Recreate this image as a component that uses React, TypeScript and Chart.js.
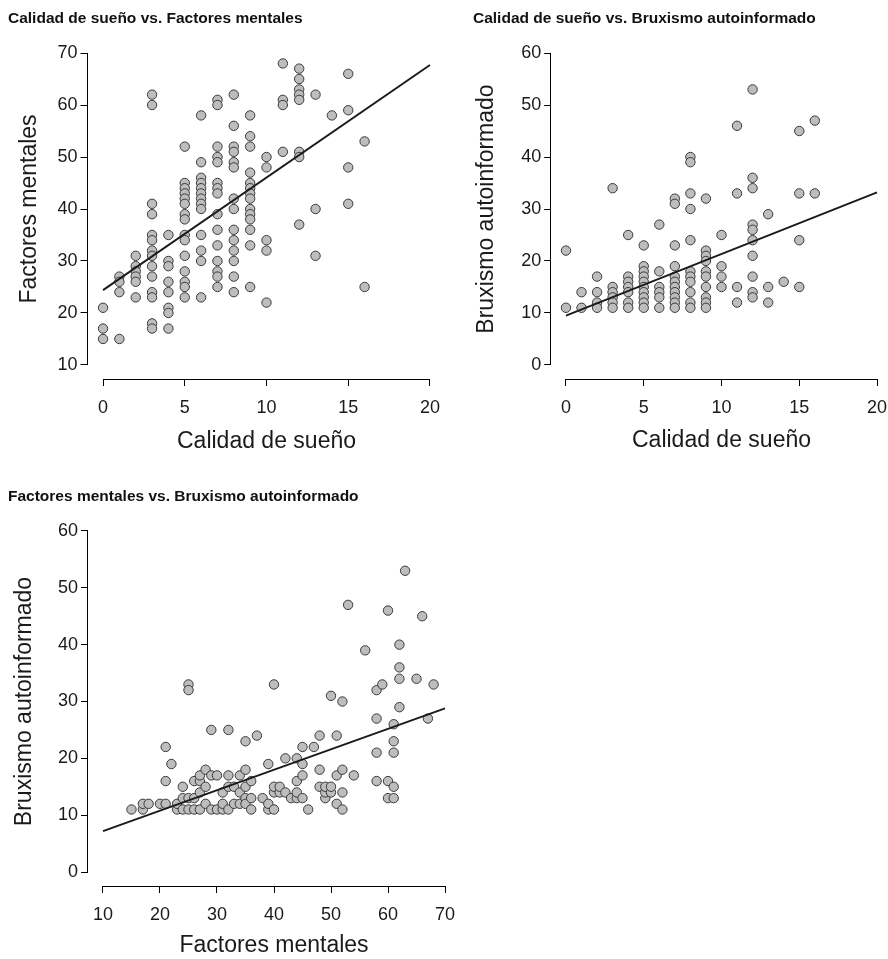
import React, { useEffect, useRef } from "react";
import { Chart, registerables } from "chart.js";

Chart.register(...registerables);

// ---------- DATA ----------
const sleepLevels = [0, 1, 2, 3, 4, 5, 6, 7, 8, 9, 10, 11, 12, 13, 14, 15, 16];

// Panel 1: mental factors grouped by sleep-quality score
const mentalBySleep: number[][] = [
  [21, 17, 15],
  [27, 26, 24, 15],
  [31, 29, 28, 27, 26, 23],
  [62, 60, 41, 39, 35, 34, 32, 31, 29, 27, 24, 23, 18, 17],
  [35, 30, 29, 26, 24, 21, 20, 17],
  [52, 45, 44, 43, 42, 41, 39, 38, 35, 34, 31, 28, 26, 25, 23],
  [58, 49, 46, 45, 44, 43, 42, 41, 40, 35, 32, 30, 23],
  [61, 60, 52, 50, 49, 45, 44, 43, 39, 36, 33, 30, 28, 27, 25],
  [62, 56, 52, 51, 49, 48, 42, 40, 36, 34, 32, 30, 27, 24],
  [58, 54, 52, 47, 45, 44, 43, 42, 40, 39, 38, 36, 33, 25],
  [50, 48, 34, 32, 22],
  [68, 61, 60, 51],
  [67, 65, 63, 62, 61, 51, 50, 37],
  [62, 40, 31],
  [58],
  [66, 59, 48, 41],
  [53, 25],
];

// Panel 2: bruxism grouped by sleep-quality score
const bruxBySleep: number[][] = [
  [22, 11],
  [14, 11],
  [17, 14, 12, 11],
  [34, 15, 14, 13, 12, 11],
  [25, 17, 16, 15, 14, 12, 11],
  [23, 19, 18, 17, 16, 15, 14, 13, 12, 11],
  [27, 18, 15, 14, 13, 11],
  [32, 31, 23, 19, 17, 16, 15, 14, 13, 12, 11],
  [40, 39, 33, 30, 24, 18, 17, 16, 14, 12, 11],
  [32, 22, 21, 20, 18, 17, 15, 13, 12, 11],
  [25, 19, 17, 15],
  [46, 33, 15, 12],
  [53, 36, 34, 27, 26, 24, 21, 17, 14, 13],
  [29, 15, 12],
  [16],
  [45, 33, 24, 15],
  [47, 33],
];

// Panel 3: mental factors (x) vs bruxism (y)
const mental3 = [
  15, 17, 17, 18, 20, 21, 21, 22, 21, 23,
  23, 24, 24, 24, 25, 25, 25, 25, 26, 26,
  26, 27, 27, 27, 27, 28, 28, 28, 29, 29,
  29, 30, 30, 31, 31, 31, 32, 32, 32, 32,
  33, 33, 34, 34, 34, 35, 35, 35, 35, 35,
  36, 36, 36, 37, 38, 39, 39, 39, 40, 40,
  40, 40, 41, 41, 42, 42, 43, 44, 44, 44,
  44, 45, 45, 45, 45, 46, 47, 48, 48, 48,
  49, 49, 49, 50, 50, 50, 51, 51, 51, 52,
  52, 52, 52, 53, 54, 56, 58, 58, 58, 58,
  59, 60, 60, 60, 61, 61, 61, 61, 61, 62,
  62, 62, 62, 63, 65, 66, 67, 68,
];
const brux3 = [
  11, 11, 12, 12, 12, 12, 16, 19, 22, 11,
  12, 11, 13, 15, 11, 13, 33, 32, 11, 16,
  13, 11, 14, 16, 17, 12, 15, 18, 11, 17,
  25, 11, 17, 11, 12, 14, 11, 15, 17, 25,
  12, 15, 12, 14, 17, 13, 15, 18, 23, 12,
  11, 13, 16, 24, 13, 11, 12, 19, 11, 14,
  15, 33, 14, 15, 14, 20, 13, 13, 14, 16,
  20, 13, 17, 19, 22, 11, 22, 15, 18, 24,
  13, 14, 15, 14, 15, 31, 12, 17, 24, 11,
  14, 18, 30, 47, 17, 39, 16, 21, 27, 32,
  33, 13, 16, 46, 13, 15, 21, 23, 26, 29,
  34, 36, 40, 53, 34, 45, 27, 33,
];

// Regression fits [intercept, slope]
const fit1 = [24.4, 2.165];
const fit2 = [9.5, 1.185];
const fit3 = [3.6, 0.36];

// Tick labels
const sleepTicks = [0, 5, 10, 15, 20];
const mentalTicksY = [10, 20, 30, 40, 50, 60, 70];
const bruxTicks = [0, 10, 20, 30, 40, 50, 60];
const mentalTicksX = [10, 20, 30, 40, 50, 60, 70];

const titles = [
  "Calidad de sueño vs. Factores mentales",
  "Calidad de sueño vs. Bruxismo autoinformado",
  "Factores mentales vs. Bruxismo autoinformado",
];
const axisNames = {
  sleep: "Calidad de sueño",
  mental: "Factores mentales",
  brux: "Bruxismo autoinformado",
};

// ---------- HELPERS ----------
const FONT = "'Liberation Sans', Arial, Helvetica, sans-serif";
const TICK_SIZE = 18;
const AXIS_TITLE_SIZE = 23;

function groupedPoints(levels: number[], groups: number[][]) {
  const pts: { x: number; y: number }[] = [];
  levels.forEach((lv, i) => (groups[i] || []).forEach((v) => pts.push({ x: lv, y: v })));
  return pts;
}
function pairPoints(xs: number[], ys: number[]) {
  return xs.map((x, i) => ({ x, y: ys[i] }));
}

const rAxesPlugin = {
  id: "rAxes",
  afterDraw(chart: any) {
    const { ctx, chartArea } = chart;
    const xs = chart.scales.x;
    const ys = chart.scales.y;
    const xt = xs.ticks;
    const yt = ys.ticks;
    ctx.save();
    ctx.strokeStyle = "#000";
    ctx.lineWidth = 1;
    ctx.beginPath();
    const yb = Math.round(chartArea.bottom) + 0.5;
    ctx.moveTo(xs.getPixelForValue(xt[0].value), yb);
    ctx.lineTo(xs.getPixelForValue(xt[xt.length - 1].value), yb);
    const xl = Math.round(chartArea.left) - 0.5;
    ctx.moveTo(xl, ys.getPixelForValue(yt[0].value));
    ctx.lineTo(xl, ys.getPixelForValue(yt[yt.length - 1].value));
    ctx.stroke();
    ctx.restore();
  },
};

type PanelProps = {
  left: number;
  top: number;
  width: number;
  height: number;
  area: { L: number; T: number; R: number; B: number };
  yTitleX: number;
  xTitleY: number;
  xMin: number;
  xMax: number;
  yMin: number;
  yMax: number;
  xTicks: number[];
  yTicks: number[];
  xTitle: string;
  yTitle: string;
  points: { x: number; y: number }[];
  fit: number[];
};

function Panel(p: PanelProps) {
  const ref = useRef<HTMLCanvasElement>(null);
  useEffect(() => {
    if (!ref.current) return;
    const half = (AXIS_TITLE_SIZE * 1.2) / 2;
    const padLeft = p.yTitleX - half - p.left;
    const padTop = p.area.T - p.top;
    const padRight = p.left + p.width - p.area.R;
    const padBottom = p.top + p.height - (p.xTitleY + half);
    const yW = p.area.L - p.left - padLeft;
    const xH = p.xTitleY + half - p.area.B;
    const x0 = p.xTicks[0];
    const x1 = p.xTicks[p.xTicks.length - 1];
    const lineData = [
      { x: x0, y: p.fit[0] + p.fit[1] * x0 },
      { x: x1, y: p.fit[0] + p.fit[1] * x1 },
    ];
    const tickFont = { family: FONT, size: TICK_SIZE };
    const titleFont = { family: FONT, size: AXIS_TITLE_SIZE, lineHeight: 1.2 };
    const chart = new Chart(ref.current, {
      type: "scatter",
      data: {
        datasets: [
          {
            type: "scatter",
            data: lineData,
            showLine: true,
            borderColor: "#1a1a1a",
            borderWidth: 1.9,
            pointRadius: 0,
            fill: false,
          } as any,
          {
            type: "scatter",
            data: p.points,
            pointRadius: 4.7,
            pointBackgroundColor: "#bdbdbd",
            pointBorderColor: "#3a3a3a",
            pointBorderWidth: 1,
          } as any,
        ],
      },
      options: {
        responsive: false,
        devicePixelRatio: 1,
        animation: false,
        events: [],
        layout: { padding: { left: padLeft, top: padTop, right: padRight, bottom: padBottom } },
        plugins: { legend: { display: false }, tooltip: { enabled: false }, title: { display: false } },
        scales: {
          x: {
            type: "linear",
            min: p.xMin,
            max: p.xMax,
            afterBuildTicks: (s: any) => {
              s.ticks = p.xTicks.map((v) => ({ value: v }));
            },
            afterFit: (s: any) => {
              s.height = xH;
            },
            border: { display: false },
            grid: { display: true, drawOnChartArea: false, drawTicks: true, tickLength: 7, tickColor: "#000", lineWidth: 1 },
            ticks: { font: tickFont, color: "#1a1a1a", padding: 11, maxRotation: 0, autoSkip: false },
            title: { display: true, text: p.xTitle, font: titleFont, color: "#1a1a1a", padding: 0 },
          },
          y: {
            type: "linear",
            min: p.yMin,
            max: p.yMax,
            afterBuildTicks: (s: any) => {
              s.ticks = p.yTicks.map((v) => ({ value: v }));
            },
            afterFit: (s: any) => {
              s.width = yW;
            },
            border: { display: false },
            grid: { display: true, drawOnChartArea: false, drawTicks: true, tickLength: 7, tickColor: "#000", lineWidth: 1 },
            ticks: { font: tickFont, color: "#1a1a1a", padding: 3, autoSkip: false },
            title: { display: true, text: p.yTitle, font: titleFont, color: "#1a1a1a", padding: 0 },
          },
        },
      } as any,
      plugins: [rAxesPlugin],
    });
    return () => chart.destroy();
  }, []);
  return (
    <canvas
      ref={ref}
      width={p.width}
      height={p.height}
      style={{ position: "absolute", left: p.left, top: p.top, width: p.width, height: p.height }}
    />
  );
}

const titleStyle = (left: number, top: number): React.CSSProperties => ({
  position: "absolute",
  left,
  top,
  fontFamily: FONT,
  fontWeight: "bold",
  fontSize: 15.5,
  lineHeight: "18px",
  color: "#111",
  whiteSpace: "nowrap",
});

export default function App() {
  return (
    <div
      style={{
        position: "absolute",
        left: 0,
        top: 0,
        width: 888,
        height: 959,
        overflow: "hidden",
        background: "#fff",
      }}
    >
      <Panel
        left={0}
        top={0}
        width={460}
        height={480}
        area={{ L: 87.5, T: 39, R: 445.5, B: 379 }}
        yTitleX={30}
        xTitleY={442}
        xMin={-0.95}
        xMax={20.95}
        yMin={7.3}
        yMax={72.7}
        xTicks={sleepTicks}
        yTicks={mentalTicksY}
        xTitle={axisNames.sleep}
        yTitle={axisNames.mental}
        points={groupedPoints(sleepLevels, mentalBySleep)}
        fit={fit1}
      />
      <Panel
        left={444}
        top={0}
        width={460}
        height={480}
        area={{ L: 551.2, T: 39, R: 891.8, B: 379 }}
        yTitleX={487}
        xTitleY={441}
        xMin={-0.95}
        xMax={20.95}
        yMin={-2.7}
        yMax={62.7}
        xTicks={sleepTicks}
        yTicks={bruxTicks}
        xTitle={axisNames.sleep}
        yTitle={axisNames.brux}
        points={groupedPoints(sleepLevels, bruxBySleep)}
        fit={fit2}
      />
      <Panel
        left={0}
        top={480}
        width={480}
        height={479}
        area={{ L: 88, T: 517, R: 460, B: 886 }}
        yTitleX={25}
        xTitleY={946}
        xMin={7.37}
        xMax={72.63}
        yMin={-2.46}
        yMax={62.46}
        xTicks={mentalTicksX}
        yTicks={bruxTicks}
        xTitle={axisNames.mental}
        yTitle={axisNames.brux}
        points={pairPoints(mental3, brux3)}
        fit={fit3}
      />
      <div style={titleStyle(8, 9)}>{titles[0]}</div>
      <div style={titleStyle(473, 9)}>{titles[1]}</div>
      <div style={titleStyle(8, 487)}>{titles[2]}</div>
    </div>
  );
}
